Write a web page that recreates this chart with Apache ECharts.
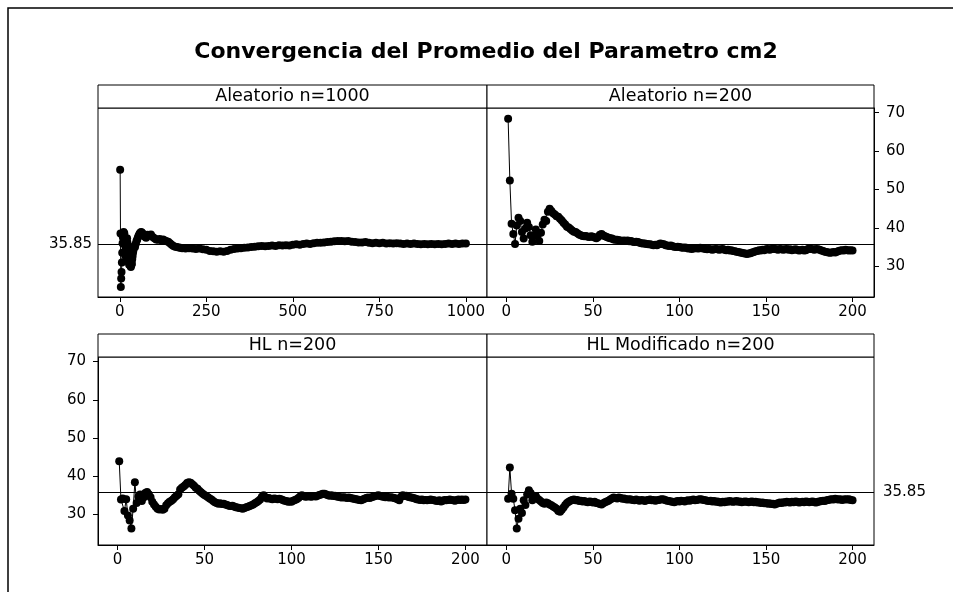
<!DOCTYPE html>
<html>
<head>
<meta charset="utf-8">
<title>Convergencia del Promedio del Parametro cm2</title>
<script src="https://cdn.jsdelivr.net/npm/echarts@6/dist/echarts.min.js"></script>
<style>
  html, body { margin: 0; padding: 0; background: #fff; }
  #chart { width: 953px; height: 592px; }
</style>
</head>
<body>
<div id="chart"></div>
<script>
// ---- data ----------------------------------------------------------------
const chartTitle = 'Convergencia del Promedio del Parametro cm2';
const panelTitles = ['Aleatorio n=1000', 'Aleatorio n=200', 'HL n=200', 'HL Modificado n=200'];
const referenceValue = 35.85;
const referenceText = '35.85';

const xTicks1000 = [0, 250, 500, 750, 1000];
const xTicks200 = [0, 50, 100, 150, 200];
const yTicks = [30, 40, 50, 60, 70];

// running mean, random sampling, n = 1000 (sample number / mean)
const aleatorio1000Idx = [
  1, 2, 3, 4, 5, 6, 7, 8, 9, 10, 11, 12, 13, 14, 15, 16, 17, 18, 19, 20,
  21, 22, 23, 24, 25, 26, 27, 28, 29, 30, 31, 32, 33, 34, 35, 36, 37, 38, 39, 40,
  42, 44, 46, 48, 50, 52, 54, 56, 58, 60, 62, 64, 66, 68, 70, 72, 74, 76, 78, 80,
  85, 90, 95, 100, 105, 110, 115, 120, 125, 130, 135, 140, 145, 150, 155, 160, 165, 170, 175, 180,
  190, 200, 210, 220, 230, 240, 250, 260, 270, 280, 290, 300, 310, 320, 330, 340, 350, 360, 370, 380,
  390, 400, 410, 420, 430, 440, 450, 460, 470, 480, 490, 500, 510, 520, 530, 540, 550, 560, 570, 580,
  590, 600, 610, 620, 630, 640, 650, 660, 670, 680, 690, 700, 710, 720, 730, 740, 750, 760, 770, 780,
  790, 800, 810, 820, 830, 840, 850, 860, 870, 880, 890, 900, 910, 920, 930, 940, 950, 960, 970, 980,
  990, 1000
];
const aleatorio1000Val = [
  55.1, 38.5, 24.6, 26.8, 28.5, 31.0, 33.5, 36.0, 37.5, 38.2, 38.9, 38.3, 38.6, 37.0, 35.5, 34.0, 32.6, 33.8, 35.2, 36.4,
  37.3, 36.2, 34.8, 33.2, 31.8, 31.0, 30.4, 31.6, 32.8, 31.2, 30.1, 29.8, 30.3, 31.4, 30.6, 31.9, 32.7, 33.5, 34.0, 34.6,
  35.3, 35.0, 35.8, 36.5, 36.9, 37.4, 37.9, 38.3, 38.6, 38.8, 38.9, 38.7, 38.5, 38.2, 37.9, 38.1, 37.6, 37.4, 37.9, 38.2,
  38.1, 38.3, 37.6, 37.3, 37.0, 36.9, 37.1, 36.8, 37.0, 36.7, 36.5, 36.4, 36.0, 35.6, 35.3, 35.1, 35.0, 34.9, 34.8, 34.7,
  34.6, 34.7, 34.6, 34.5, 34.6, 34.4, 34.3, 34.0, 33.9, 33.8, 33.9, 33.8, 34.0, 34.3, 34.5, 34.6, 34.7, 34.8, 34.9, 35.0,
  35.1, 35.2, 35.3, 35.2, 35.3, 35.4, 35.3, 35.5, 35.4, 35.5, 35.4, 35.6, 35.7, 35.6, 35.8, 35.9, 35.8, 36.0, 36.1, 36.1,
  36.2, 36.3, 36.4, 36.5, 36.6, 36.6, 36.5, 36.6, 36.4, 36.3, 36.2, 36.2, 36.3, 36.1, 36.0, 36.1, 36.0, 36.1, 35.9, 36.0,
  35.9, 36.0, 35.9, 35.8, 35.9, 35.8, 35.9, 35.8, 35.7, 35.8, 35.7, 35.8, 35.7, 35.8, 35.7, 35.8, 35.9, 35.8, 35.9, 35.8,
  35.9, 35.9
];

// running mean, random sampling, n = 200 (samples 1..200)
const aleatorio200 = [
  68.4, 52.3, 41.1, 38.4, 35.8, 40.6, 42.6, 41.8, 38.9, 37.2, 39.8, 41.3, 40.2, 38.1, 36.4, 37.9, 39.6, 38.0, 36.6, 38.7,
  40.9, 42.1, 41.8, 44.2, 45.0, 44.4, 43.8, 43.5, 43.0, 42.9, 42.4, 41.9, 41.3, 40.9, 40.3, 40.1, 39.7, 39.3, 39.0, 38.9,
  38.6, 38.3, 38.1, 37.9, 37.8, 37.9, 37.7, 37.6, 37.8, 37.7, 37.5, 37.3, 37.6, 38.2, 38.4, 38.0, 37.8, 37.6, 37.4, 37.3,
  37.2, 37.0, 36.9, 36.9, 36.8, 36.7, 36.6, 36.7, 36.6, 36.7, 36.5, 36.6, 36.4, 36.3, 36.4, 36.3, 36.1, 36.0, 35.9, 35.9,
  35.8, 35.7, 35.7, 35.6, 35.5, 35.6, 35.5, 35.7, 35.9, 35.8, 35.7, 35.5, 35.4, 35.3, 35.4, 35.2, 35.1, 35.0, 35.1, 35.0,
  34.9, 34.8, 34.9, 34.8, 34.6, 34.7, 34.5, 34.6, 34.7, 34.7, 34.6, 34.8, 34.7, 34.6, 34.5, 34.4, 34.5, 34.4, 34.3, 34.4,
  34.5, 34.4, 34.3, 34.4, 34.5, 34.3, 34.2, 34.3, 34.1, 34.2, 34.0, 33.9, 33.8, 33.7, 33.6, 33.5, 33.4, 33.3, 33.2, 33.3,
  33.4, 33.6, 33.7, 33.9, 34.0, 34.2, 34.1, 34.3, 34.2, 34.4, 34.5, 34.3, 34.4, 34.6, 34.5, 34.4, 34.3, 34.5, 34.4, 34.3,
  34.4, 34.5, 34.3, 34.4, 34.2, 34.3, 34.4, 34.3, 34.1, 34.2, 34.3, 34.1, 34.2, 34.4, 34.6, 34.5, 34.4, 34.3, 34.5, 34.4,
  34.3, 34.1, 34.0, 33.8, 33.7, 33.6, 33.5, 33.6, 33.7, 33.6, 33.8, 34.0, 34.1, 34.2, 34.1, 34.3, 34.2, 34.1, 34.2, 34.1
];

// running mean, HL sampling, n = 200
const hl200 = [
  43.9, 33.9, 34.2, 30.9, 34.0, 29.7, 28.4, 26.3, 31.5, 38.4, 33.0, 34.6, 35.2, 33.5, 34.4, 35.6, 35.9, 35.3, 34.5, 33.3,
  32.6, 32.0, 31.5, 31.3, 31.4, 31.2, 31.5, 32.4, 32.9, 33.3, 33.6, 34.0, 34.5, 34.9, 35.3, 36.5, 37.0, 37.3, 37.7, 38.2,
  38.4, 38.3, 37.9, 37.5, 37.0, 36.7, 36.2, 35.8, 35.4, 35.1, 34.8, 34.5, 34.2, 33.9, 33.5, 33.2, 33.0, 32.8, 32.9, 32.7,
  32.8, 32.6, 32.5, 32.3, 32.2, 32.3, 32.1, 31.9, 31.8, 31.7, 31.6, 31.5, 31.7, 31.9, 32.0, 32.2, 32.4, 32.6, 32.9, 33.2,
  33.5, 33.9, 34.6, 35.0, 34.5, 34.2, 34.3, 34.1, 34.0, 34.2, 34.1, 34.0, 34.1, 34.0, 33.8, 33.6, 33.5, 33.3, 33.4, 33.3,
  33.6, 33.8, 34.0, 34.3, 34.7, 35.0, 34.8, 34.6, 34.7, 34.8, 34.6, 34.7, 34.8, 34.7, 34.9, 35.1, 35.2, 35.4, 35.4, 35.2,
  35.0, 34.9, 35.0, 34.8, 34.9, 34.7, 34.6, 34.5, 34.4, 34.5, 34.4, 34.3, 34.4, 34.3, 34.2, 34.1, 34.0, 33.9, 33.8, 33.7,
  33.9, 34.1, 34.3, 34.4, 34.3, 34.5, 34.6, 34.8, 34.9, 35.0, 34.8, 34.7, 34.6, 34.5, 34.6, 34.4, 34.5, 34.4, 34.3, 34.2,
  34.0, 33.7, 34.6, 35.0, 34.8, 34.9, 34.6, 34.5, 34.4, 34.3, 34.2, 34.0, 33.9, 33.8, 33.9, 33.7, 33.8, 33.7, 33.8, 33.9,
  33.8, 33.7, 33.6, 33.5, 33.7, 33.4, 33.6, 33.8, 33.7, 33.8, 33.9, 33.8, 33.7, 33.6, 33.8, 33.9, 33.8, 33.9, 33.8, 33.9
];

// running mean, modified HL sampling, n = 200
const hlMod200 = [
  34.1, 42.3, 35.4, 34.1, 31.1, 26.3, 28.9, 31.5, 30.4, 33.7, 32.5, 35.2, 36.3, 35.6, 33.7, 34.5, 34.8, 34.1, 33.8, 33.4,
  33.0, 32.8, 33.1, 32.9, 32.6, 32.4, 32.1, 31.8, 31.5, 30.9, 30.7, 31.2, 31.8, 32.5, 33.0, 33.3, 33.6, 33.8, 33.9, 33.7,
  33.8, 33.5, 33.6, 33.4, 33.5, 33.3, 33.2, 33.4, 33.3, 33.1, 33.3, 33.0, 32.9, 32.7, 32.6, 32.9, 33.2, 33.4, 33.6, 33.9,
  34.2, 34.4, 34.3, 34.2, 34.4, 34.3, 34.1, 34.2, 34.0, 33.9, 34.0, 33.9, 33.8, 33.7, 33.9, 33.7, 33.6, 33.8, 33.7, 33.5,
  33.7, 33.8, 33.9, 33.7, 33.8, 33.6, 33.7, 33.8, 33.9, 34.0, 33.9, 33.7, 33.6, 33.5, 33.4, 33.3, 33.2, 33.4, 33.5, 33.4,
  33.6, 33.5, 33.4, 33.6, 33.7, 33.6, 33.8, 33.9, 33.7, 33.8, 33.9, 34.0, 33.9, 33.8, 33.7, 33.6, 33.5, 33.6, 33.4, 33.5,
  33.3, 33.4, 33.2, 33.1, 33.3, 33.2, 33.4, 33.3, 33.5, 33.4, 33.3, 33.4, 33.5, 33.3, 33.4, 33.2, 33.3, 33.4, 33.3, 33.2,
  33.3, 33.4, 33.2, 33.3, 33.1, 33.2, 33.0, 33.1, 32.9, 33.0, 32.8, 32.9, 32.7, 32.8, 32.6, 32.8, 32.9, 33.1, 33.0, 33.2,
  33.1, 33.3, 33.2, 33.1, 33.3, 33.2, 33.4, 33.3, 33.1, 33.2, 33.3, 33.2, 33.4, 33.3, 33.2, 33.3, 33.4, 33.2, 33.1, 33.3,
  33.4, 33.5, 33.6, 33.5, 33.7, 33.8, 33.9, 34.0, 33.9, 34.1, 34.0, 33.9, 34.0, 33.8, 33.9, 34.0, 33.9, 34.0, 33.8, 33.7
];

// ---- layout ----------------------------------------------------------------
const FONT = 'DejaVu Sans';
const STRIP_H = 23;
const Y_RANGE = [22, 71.2];
const X_RANGE_1000 = [-63, 1061];
const X_RANGE_200 = [-11.2, 212.4];

const seq = (vals) => vals.map((v, i) => [i + 1, v]);
const plainNumber = (v) => String(v);

const panels = [
  { name: panelTitles[0], data: aleatorio1000Idx.map((x, i) => [x, aleatorio1000Val[i]]),
    xRange: X_RANGE_1000, xTicks: xTicks1000, box: { left: 98, top: 108, width: 389, height: 189 },
    yLabels: null, refLabel: 'start' },
  { name: panelTitles[1], data: seq(aleatorio200),
    xRange: X_RANGE_200, xTicks: xTicks200, box: { left: 487, top: 108, width: 387, height: 189 },
    yLabels: 'right', refLabel: null },
  { name: panelTitles[2], data: seq(hl200),
    xRange: X_RANGE_200, xTicks: xTicks200, box: { left: 98, top: 357, width: 389, height: 188 },
    yLabels: 'left', refLabel: null },
  { name: panelTitles[3], data: seq(hlMod200),
    xRange: X_RANGE_200, xTicks: xTicks200, box: { left: 487, top: 357, width: 387, height: 188 },
    yLabels: null, refLabel: 'end' }
];

const textStyleBase = { fontFamily: FONT, color: '#000' };

const grids = [], xAxes = [], yAxes = [], series = [], graphics = [];

// outer frame
graphics.push({
  type: 'rect', silent: true, z: 0,
  shape: { x: 8, y: 8, width: 1000, height: 1000 },
  style: { fill: 'none', stroke: '#000', lineWidth: 1.5 }
});

// main title
graphics.push({
  type: 'text', silent: true, z: 10,
  x: 486, y: 52,
  style: { text: chartTitle, font: 'bold 22px "' + FONT + '"', fill: '#000',
           textAlign: 'center', textVerticalAlign: 'middle' }
});

panels.forEach((p, k) => {
  const b = p.box;
  grids.push({ left: b.left, top: b.top, width: b.width, height: b.height,
               show: true, borderColor: '#000', borderWidth: 1, backgroundColor: '#fff',
               containLabel: false });

  xAxes.push({
    type: 'value', gridIndex: k, min: p.xRange[0], max: p.xRange[1],
    axisLine: { show: true, onZero: false, lineStyle: { color: '#000', width: 1 } },
    axisTick: { show: true, length: 5, customValues: p.xTicks, lineStyle: { color: '#000' } },
    axisLabel: { show: true, customValues: p.xTicks, formatter: plainNumber,
                 margin: 8, fontSize: 15, ...textStyleBase },
    splitLine: { show: false }
  });

  yAxes.push({
    type: 'value', gridIndex: k, min: Y_RANGE[0], max: Y_RANGE[1],
    position: p.yLabels || 'left',
    axisLine: { show: p.yLabels != null, onZero: false, lineStyle: { color: '#000', width: 1 } },
    axisTick: { show: p.yLabels != null, length: 5, customValues: yTicks, lineStyle: { color: '#000' } },
    axisLabel: { show: p.yLabels != null, customValues: yTicks, formatter: plainNumber,
                 margin: 12, fontSize: 15, ...textStyleBase },
    splitLine: { show: false }
  });

  series.push({
    type: 'line', xAxisIndex: k, yAxisIndex: k,
    data: p.data,
    symbol: 'circle', symbolSize: 8, showSymbol: true,
    itemStyle: { color: '#000' },
    lineStyle: { color: '#000', width: 1 },
    animation: false, silent: true, z: 3,
    markLine: {
      silent: true, symbol: 'none', animation: false,
      lineStyle: { color: '#000', width: 1, type: 'solid' },
      label: p.refLabel
        ? { show: true, position: p.refLabel, formatter: referenceText, fontSize: 15,
            distance: p.refLabel === 'start' ? 6 : 9, ...textStyleBase }
        : { show: false },
      data: [{ yAxis: referenceValue }]
    }
  });

  // strip header above each panel
  graphics.push({
    type: 'rect', silent: true, z: 5,
    shape: { x: b.left, y: b.top - STRIP_H, width: b.width, height: STRIP_H },
    style: { fill: '#fff', stroke: '#000', lineWidth: 1 }
  });
  graphics.push({
    type: 'text', silent: true, z: 6,
    x: b.left + b.width / 2, y: b.top - STRIP_H / 2,
    style: { text: p.name, font: '17.5px "' + FONT + '"', fill: '#000',
             textAlign: 'center', textVerticalAlign: 'middle' }
  });
});

const chart = echarts.init(document.getElementById('chart'), null, { renderer: 'canvas' });
chart.setOption({
  backgroundColor: '#fff',
  animation: false,
  grid: grids,
  xAxis: xAxes,
  yAxis: yAxes,
  series: series,
  graphic: { elements: graphics }
});
</script>
</body>
</html>
